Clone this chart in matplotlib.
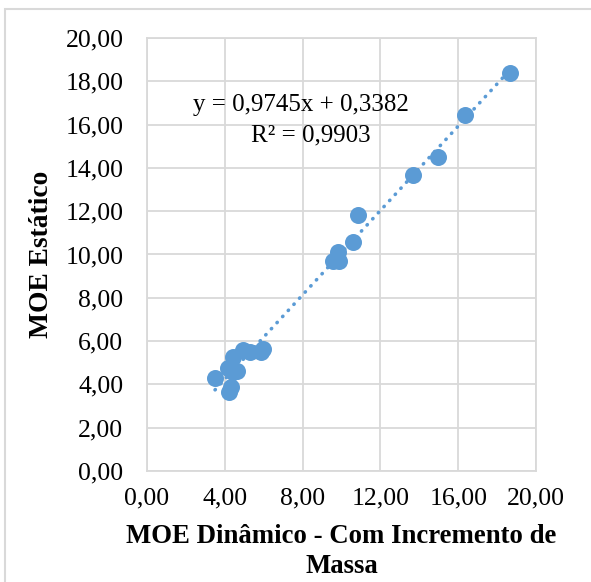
import numpy as np
import matplotlib
matplotlib.use("Agg")
import matplotlib.pyplot as plt
from matplotlib.patches import Rectangle
from matplotlib.ticker import FuncFormatter

plt.rcParams['font.family'] = ['Liberation Serif', 'DejaVu Serif']

# MOE values
moe_dinamico = [3.50, 4.20, 4.30, 4.40, 4.15, 4.65, 4.40, 4.95, 5.30, 5.85, 5.95,
                9.55, 9.85, 9.80, 10.60, 10.85, 13.70, 14.95, 16.35, 18.65]
moe_estatico = [4.28, 3.65, 3.90, 4.55, 4.75, 4.60, 5.25, 5.58, 5.50, 5.50, 5.65,
                9.72, 9.68, 10.12, 10.58, 11.82, 13.65, 14.52, 16.45, 18.40]
slope, intercept, r2 = 0.9745, 0.3382, 0.9903

x_ticks = [0, 4, 8, 12, 16, 20]
y_ticks = [0, 2, 4, 6, 8, 10, 12, 14, 16, 18, 20]

blue = '#5B9BD5'
grid = '#D9D9D9'

fig = plt.figure(figsize=(5.91, 5.82), dpi=100)
W, H = 591, 582
ax = fig.add_axes([147 / W, 1 - 471 / H, (536 - 147) / W, (471 - 38) / H])

# outer chart border (only left/top visible in the crop)
fig.patches.append(Rectangle((5 / W, -0.05), 1.2, 1.05 - 9 / H, transform=fig.transFigure,
                             fill=False, edgecolor=grid, linewidth=1.5))

ax.set_xlim(0, 20)
ax.set_ylim(0, 20)
ax.set_xticks(x_ticks)
ax.set_yticks(y_ticks)
fmt = FuncFormatter(lambda v, p: f"{v:.2f}".replace('.', ','))
ax.xaxis.set_major_formatter(fmt)
ax.yaxis.set_major_formatter(fmt)
ax.tick_params(axis='x', length=0, labelsize=18.5, pad=12)
ax.tick_params(axis='y', length=0, labelsize=18.5, pad=17)
ax.grid(True, color=grid, linewidth=1.3)
ax.set_axisbelow(True)
for s in ax.spines.values():
    s.set_color(grid)
    s.set_linewidth(1.3)

ax.scatter(moe_dinamico, moe_estatico, s=150, color=blue, zorder=3, linewidths=0)

xs = np.array([min(moe_dinamico), max(moe_dinamico)])
ax.plot(xs, slope * xs + intercept, color=blue, linewidth=2.6,
        linestyle=(0, (0.1, 2.2)), dash_capstyle='round', zorder=2)

ax.text(7.9, 16.92, "y = 0,9745x + 0,3382", fontsize=18, ha='center', va='center')
ax.text(8.4, 15.5, "R² = 0,9903", fontsize=18, ha='center', va='center')

ax.set_xlabel("MOE Dinâmico - Com Incremento de\nMassa", fontsize=19.3,
              fontweight='bold', linespacing=1.3, labelpad=10)
ax.set_ylabel("MOE Estático", fontsize=19.8, fontweight='bold', labelpad=8)

fig.savefig("out.png", dpi=100)
